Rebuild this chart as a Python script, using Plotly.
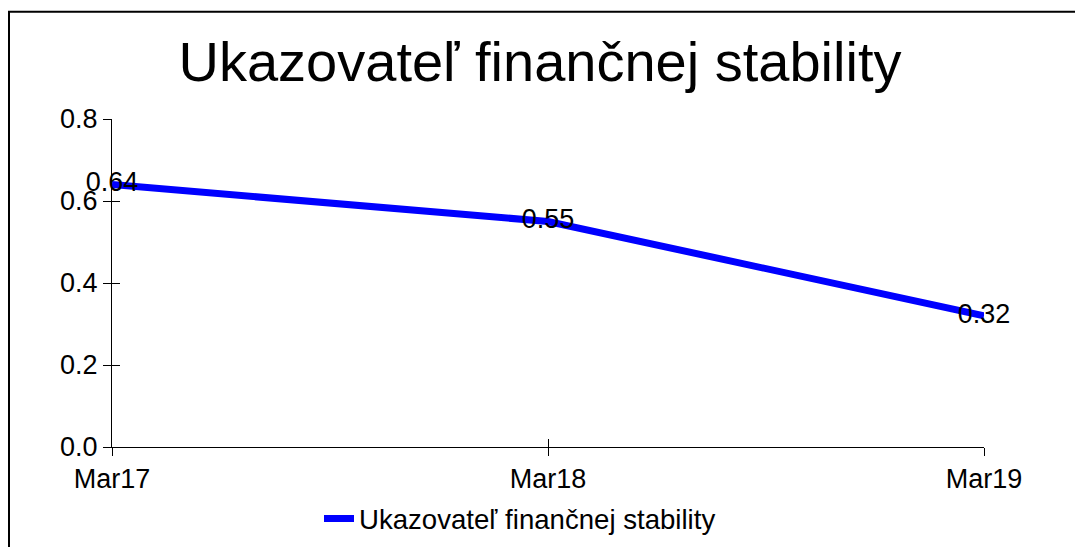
import plotly.graph_objects as go

categories = ["Mar17", "Mar18", "Mar19"]
values = [0.64, 0.55, 0.32]
value_labels = ["0.64", "0.55", "0.32"]
y_ticks = [0.0, 0.2, 0.4, 0.6, 0.8]
y_ticktext = ["0.0", "0.2", "0.4", "0.6", "0.8"]
series_name = "Ukazovateľ finančnej stability"
title_text = "Ukazovateľ finančnej stability"

W, H = 1083, 547
OFF = 8  # page body margin offset
ML, MR, MT, MB = 112 - OFF, W - (984 - OFF), 119 - OFF, H - (449 - OFF)
pw, ph = W - ML - MR, H - MT - MB

def px_x(p):
    return (p - OFF - ML) / pw

def px_y(p):
    return (H - MB - (p - OFF)) / ph

font_family = "Liberation Sans, Arial, sans-serif"

fig = go.Figure()
fig.add_trace(go.Scatter(
    x=categories, y=values, mode="lines+text",
    text=value_labels, textposition="middle center", cliponaxis=False,
    textfont=dict(size=27, color="black", family=font_family),
    line=dict(color="#0000FF", width=7),
    name=series_name, showlegend=True,
))
fig.add_trace(go.Scatter(
    x=categories, y=values, mode="none", xaxis="x2", yaxis="y2",
    showlegend=False, hoverinfo="skip",
))

axis_common = dict(showgrid=False, zeroline=False, showline=True,
                   linecolor="black", linewidth=1, tickcolor="black",
                   tickwidth=1, ticklen=8)

fig.update_layout(
    width=W, height=H,
    margin=dict(l=ML, r=MR, t=MT, b=MB, pad=0),
    paper_bgcolor="white", plot_bgcolor="white",
    font=dict(family=font_family, color="black", size=27),
    title=dict(text=title_text, x=(540 - OFF) / W, xref="container", xanchor="center",
               y=1 - 53 / H, yref="container", yanchor="middle",
               font=dict(size=56, color="black", family=font_family)),
    xaxis=dict(type="category", categoryarray=categories, range=[0, 2],
               ticks="outside", tickfont=dict(size=27), **axis_common),
    yaxis=dict(range=[0, 0.8], tickvals=y_ticks, ticktext=y_ticktext,
               ticks="outside", tickfont=dict(size=27), **axis_common),
    xaxis2=dict(type="category", categoryarray=categories, range=[0, 2],
                overlaying="x", anchor="y2", ticks="inside",
                showticklabels=False, **axis_common),
    yaxis2=dict(range=[0, 0.8], tickvals=y_ticks, overlaying="y", anchor="x2",
                side="left", ticks="inside", showticklabels=False, **axis_common),
    legend=dict(orientation="h", x=px_x(361 - 42), xanchor="left",
                y=px_y(521), yanchor="middle", itemwidth=30,
                font=dict(size=27.6, color="black"), bgcolor="rgba(0,0,0,0)"),
    showlegend=True,
    shapes=[dict(type="rect", xref="paper", yref="paper",
                 x0=px_x(OFF + 1), x1=px_x(W + 40), y0=px_y(H + 40), y1=px_y(11),
                 line=dict(color="black", width=2), layer="below")],
)

fig.write_html("out.html")
